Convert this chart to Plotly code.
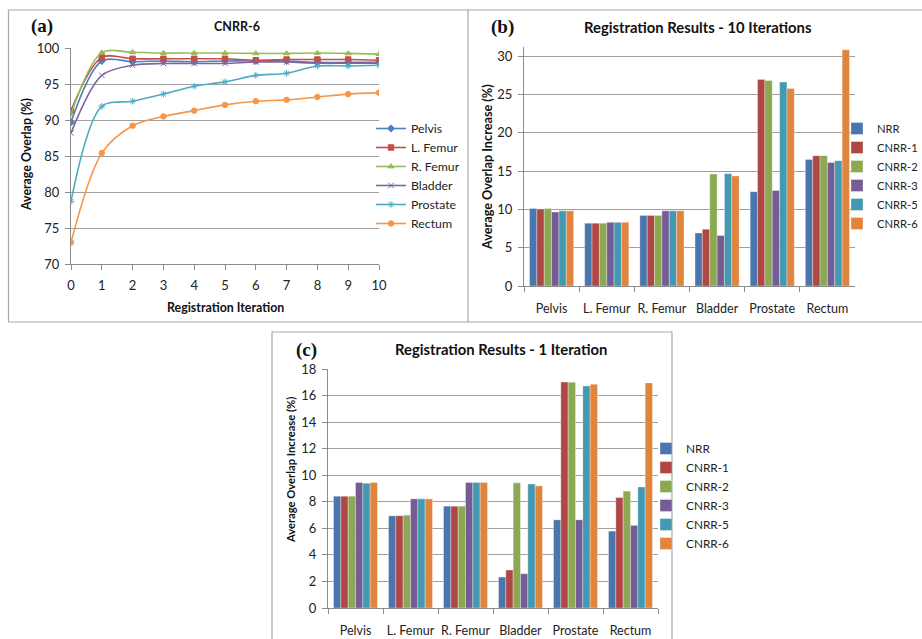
import plotly.graph_objects as go

W, H = 922, 639

# ---------------- data ----------------
iterations = [0, 1, 2, 3, 4, 5, 6, 7, 8, 9, 10]
line_names = ["Pelvis", "L. Femur", "R. Femur", "Bladder", "Prostate", "Rectum"]
pelvis   = [89.7, 98.2, 98.1, 98.2, 98.1, 98.2, 98.2, 98.2, 98.0, 98.0, 98.0]
l_femur  = [91.3, 98.7, 98.5, 98.5, 98.5, 98.5, 98.3, 98.4, 98.4, 98.4, 98.3]
r_femur  = [90.8, 99.35, 99.4, 99.3, 99.3, 99.3, 99.25, 99.25, 99.3, 99.25, 99.15]
bladder  = [88.2, 96.2, 97.6, 97.85, 97.85, 97.85, 98.05, 98.05, 97.9, 97.9, 97.9]
prostate = [78.7, 91.9, 92.6, 93.6, 94.7, 95.3, 96.2, 96.5, 97.5, 97.5, 97.6]
rectum   = [73.0, 85.4, 89.2, 90.5, 91.3, 92.1, 92.6, 92.8, 93.2, 93.6, 93.8]
line_values = [pelvis, l_femur, r_femur, bladder, prostate, rectum]

organs = ["Pelvis", "L. Femur", "R. Femur", "Bladder", "Prostate", "Rectum"]
methods = ["NRR", "CNRR-1", "CNRR-2", "CNRR-3", "CNRR-5", "CNRR-6"]
# 10 iterations (per method, values across organs)
it10_nrr   = [10.1, 8.2, 9.2, 6.9, 12.3, 16.5]
it10_c1    = [10.05, 8.2, 9.2, 7.4, 26.95, 17.0]
it10_c2    = [10.1, 8.2, 9.2, 14.6, 26.8, 17.0]
it10_c3    = [9.65, 8.3, 9.8, 6.6, 12.45, 16.1]
it10_c5    = [9.8, 8.3, 9.8, 14.65, 26.6, 16.35]
it10_c6    = [9.8, 8.3, 9.8, 14.35, 25.75, 30.8]
it10 = [it10_nrr, it10_c1, it10_c2, it10_c3, it10_c5, it10_c6]
# 1 iteration
it1_nrr = [8.42, 6.94, 7.67, 2.33, 6.64, 5.79]
it1_c1  = [8.42, 6.94, 7.67, 2.86, 17.02, 8.32]
it1_c2  = [8.42, 6.99, 7.67, 9.43, 17.0, 8.8]
it1_c3  = [9.45, 8.22, 9.45, 2.58, 6.64, 6.22]
it1_c5  = [9.4, 8.22, 9.45, 9.33, 16.72, 9.12]
it1_c6  = [9.45, 8.22, 9.45, 9.2, 16.85, 16.95]
it1 = [it1_nrr, it1_c1, it1_c2, it1_c3, it1_c5, it1_c6]

# ---------------- styles ----------------
line_colors = ["#4F81BD", "#C0504D", "#9BBB59", "#8064A2", "#4BACC6", "#F79646"]
line_symbols = ["diamond", "square", "triangle-up", "x-thin-open", "asterisk-open", "circle"]
bar_colors = ["#4A76AD", "#AF4744", "#8CA853", "#745C95", "#4399B1", "#E0853E"]

FONT = "Lato, Carlito, 'Open Sans', sans-serif"
GRID = "#A0A0A0"
AX = "#8C8C8C"


def px(x):
    return x / W


def py(y):
    return 1 - y / H


fig = go.Figure()

# panel (a) lines
for name, vals, col, sym in zip(line_names, line_values, line_colors, line_symbols):
    fig.add_trace(go.Scatter(
        x=iterations, y=vals, name=name, mode="lines+markers",
        line=dict(color=col, width=1.6, shape="spline", smoothing=0.9),
        marker=dict(symbol=sym, size=5.5, color=col, line=dict(color=col, width=1)),
        xaxis="x", yaxis="y", legend="legend",
    ))

# panel (b) bars
for name, vals, col in zip(methods, it10, bar_colors):
    fig.add_trace(go.Bar(
        x=organs, y=vals, name=name,
        marker=dict(color=col, line=dict(color="rgba(255,255,255,0.55)", width=0.6)),
        xaxis="x2", yaxis="y2", legend="legend2",
    ))

# panel (c) bars
for name, vals, col in zip(methods, it1, bar_colors):
    fig.add_trace(go.Bar(
        x=organs, y=vals, name=name,
        marker=dict(color=col, line=dict(color="rgba(255,255,255,0.55)", width=0.6)),
        xaxis="x3", yaxis="y3", legend="legend3",
    ))

tickfont = dict(family=FONT, size=13, color="#222")
cattickfont = dict(family=FONT, size=12.5, color="#222")

common_y = dict(showgrid=True, gridcolor=GRID, gridwidth=1, showline=True, linecolor=AX,
                linewidth=1, ticks="outside", ticklen=5, tickcolor=AX, tickfont=tickfont,
                zeroline=False, fixedrange=True, automargin=False, ticklabelstandoff=3)

common_cat = dict(type="category", tickson="boundaries", showgrid=False, showline=True,
                  linecolor=AX, ticks="outside", ticklen=5, tickcolor=AX, tickfont=cattickfont,
                  tickangle=0, automargin=False, ticklabelstandoff=11)

fig.update_layout(
    width=W, height=H,
    margin=dict(l=0, r=0, t=0, b=0, autoexpand=False),
    paper_bgcolor="white", plot_bgcolor="white",
    barmode="group", bargap=0.2, bargroupgap=0,
    font=dict(family=FONT, size=13, color="#222"),
    xaxis=dict(domain=[px(71), px(379)], range=[0, 10], tickmode="linear", dtick=1,
               showgrid=False, showline=True, linecolor=AX, ticks="outside", ticklen=5,
               tickcolor=AX, tickfont=tickfont, zeroline=False, anchor="y",
               automargin=False, ticklabelstandoff=4),
    yaxis=dict(domain=[py(264), py(48)], range=[70, 100], dtick=5, anchor="x", **common_y),
    xaxis2=dict(domain=[px(524), px(855)], anchor="y2", **common_cat),
    yaxis2=dict(domain=[py(286), py(46.8)], range=[0, 31.2], tickvals=[0, 5, 10, 15, 20, 25, 30],
                anchor="x2", **common_y),
    xaxis3=dict(domain=[px(328), px(658)], anchor="y3", **common_cat),
    yaxis3=dict(domain=[py(608), py(369)], range=[0, 18], dtick=2, anchor="x3", **common_y),
    legend=dict(x=px(371), y=py(114), xanchor="left", yanchor="top",
                font=dict(family=FONT, size=12.3, color="#222"), bgcolor="rgba(0,0,0,0)",
                itemwidth=30),
    legend2=dict(x=px(837), y=py(114), xanchor="left", yanchor="top",
                 font=dict(family=FONT, size=11.2, color="#222"), bgcolor="rgba(0,0,0,0)",
                 itemwidth=30),
    legend3=dict(x=px(646), y=py(434), xanchor="left", yanchor="top",
                 font=dict(family=FONT, size=11.8, color="#222"), bgcolor="rgba(0,0,0,0)",
                 itemwidth=30),
)

# frames
frame = dict(color="#A8A8A8", width=1.2)
shapes = [
    dict(type="rect", xref="paper", yref="paper", x0=px(8.5), x1=px(468), y0=py(322), y1=py(10), line=frame),
    dict(type="line", xref="paper", yref="paper", x0=px(468), x1=1, y0=py(10), y1=py(10), line=frame),
    dict(type="line", xref="paper", yref="paper", x0=px(468), x1=1, y0=py(322), y1=py(322), line=frame),
    dict(type="rect", xref="paper", yref="paper", x0=px(272), x1=px(672), y0=py(645), y1=py(332), line=frame),
]
fig.update_layout(shapes=shapes)

ann = []
ann.append(dict(text="<b>CNRR-6</b>", x=px(237), y=py(27),
                font=dict(family=FONT, size=12.5, color="#111")))
ann.append(dict(text="<b>Registration Results - 10 Iterations</b>", x=px(698), y=py(27),
                font=dict(family=FONT, size=14.8, color="#111")))
ann.append(dict(text="<b>Registration Results - 1 Iteration</b>", x=px(501), y=py(349),
                font=dict(family=FONT, size=14.8, color="#111")))

letter_font = dict(family="Liberation Serif, 'DejaVu Serif', serif", size=19, color="#111")
ann.append(dict(text="<b>(a)</b>", x=px(42), y=py(26), font=letter_font))
ann.append(dict(text="<b>(b)</b>", x=px(503), y=py(27), font=letter_font))
ann.append(dict(text="<b>(c)</b>", x=px(306), y=py(350), font=letter_font))

axt = dict(family=FONT, size=12.4, color="#111")
ann.append(dict(text="<b>Average Overlap (%)</b>", x=px(27), y=py(155), textangle=-90, font=axt))
ann.append(dict(text="<b>Registration Iteration</b>", x=px(225), y=py(307), font=axt))
ann.append(dict(text="<b>Average Overlap Increase (%)</b>", x=px(487), y=py(167), textangle=-90,
                font=dict(family=FONT, size=12.7, color="#111")))
ann.append(dict(text="<b>Average Overlap Increase (%)</b>", x=px(290), y=py(470), textangle=-90,
                font=dict(family=FONT, size=11.2, color="#111")))

for a in ann:
    a.update(xref="paper", yref="paper", showarrow=False, xanchor="center", yanchor="middle")
fig.update_layout(annotations=ann)

# remove the default 8px page margin so the figure fills the window exactly
fig.write_html("out.html",
               config={"displayModeBar": False},
               post_script="document.body.style.margin='0px';"
                           "document.documentElement.style.overflow='hidden';")
